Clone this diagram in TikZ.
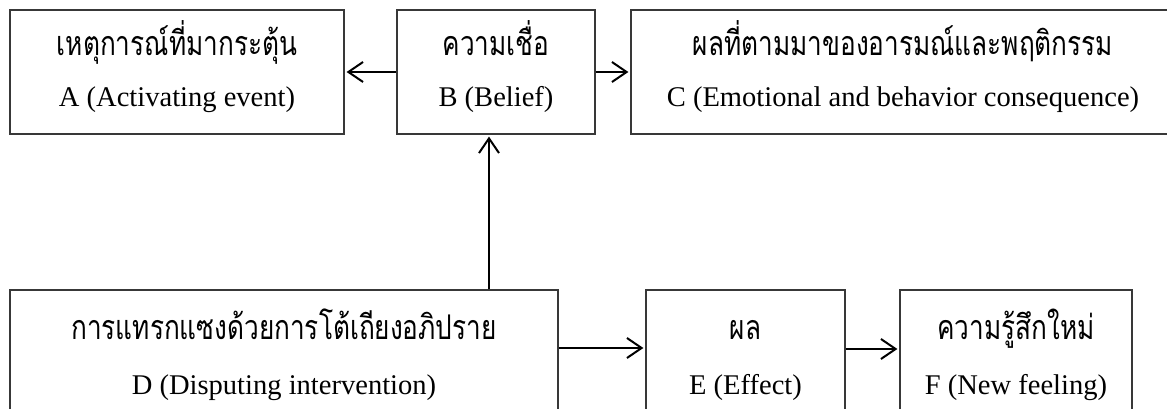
\documentclass[tikz,border=0pt]{standalone}
\usepackage{fontspec}
\setmainfont{Liberation Serif}
\newfontfamily\thaifont[Script=Thai,FakeStretch=0.77]{Loma}
\usetikzlibrary{arrows.meta}
\begin{document}
\begin{tikzpicture}[x=0.75pt,y=-0.75pt,
  box/.style n args={2}{draw=black!78, line width=0.9pt,
    minimum width=#1*0.75pt, minimum height=#2*0.75pt, inner sep=0pt},
  thtext/.style={anchor=base, inner sep=0pt, font=\thaifont\fontsize{25.5pt}{28pt}\selectfont},
  entext/.style={anchor=base, inner sep=0pt, font=\fontsize{21.4pt}{24pt}\selectfont},
  link/.style={draw=black, line width=1.5pt,
    -{Straight Barb[length=11pt, width=15pt, line width=1.5pt]}, shorten >=1.5pt}]
\useasboundingbox (0,0) rectangle (1167,409);
\clip (0,0) rectangle (1167,409);

% top row
\node[box={334}{124}] (A) at (177,72) {};
\node[box={198}{124}] (B) at (496,72) {};
\node[box={544}{124}] (C) at (903,72) {};
\node[thtext] (At) at (177,56) {เหตุการณ์ที่มากระตุ้น};
\node[entext] (Ae) at (177,107) {A (Activating event)};
\node[thtext] (Bt) at (496,56) {ความเชื่อ};
\node[entext] (Be) at (496,107) {B (Belief)};
\node[thtext] (Ct) at (903,56) {ผลที่ตามมาของอารมณ์และพฤติกรรม};
\node[entext] (Ce) at (903,107) {C (Emotional and behavior consequence)};

% bottom row
\node[box={548}{140}] (D) at (284,360) {};
\node[box={199}{140}] (E) at (745.5,360) {};
\node[box={232}{140}] (F) at (1016,360) {};
\node[thtext] (Dt) at (284,340) {การแทรกแซงด้วยการโต้เถียงอภิปราย};
\node[entext] (De) at (284,394) {D (Disputing intervention)};
\node[thtext] (Et) at (745.5,340) {ผล};
\node[entext] (Ee) at (745.5,394) {E (Effect)};
\node[thtext] (Ft) at (1016,340) {ความรู้สึกใหม่};
\node[entext] (Fe) at (1016,394) {F (New feeling)};

% connectors
\draw[link] (B.west) -- (A.east);
\draw[link] (B.east) -- (C.west);
\draw[link] (D.north -| 489,0) -- (B.south -| 489,0);
\draw[link] (D.east |- 0,348) -- (E.west |- 0,348);
\draw[link] (E.east |- 0,349) -- (F.west |- 0,349);
\end{tikzpicture}
\end{document}
